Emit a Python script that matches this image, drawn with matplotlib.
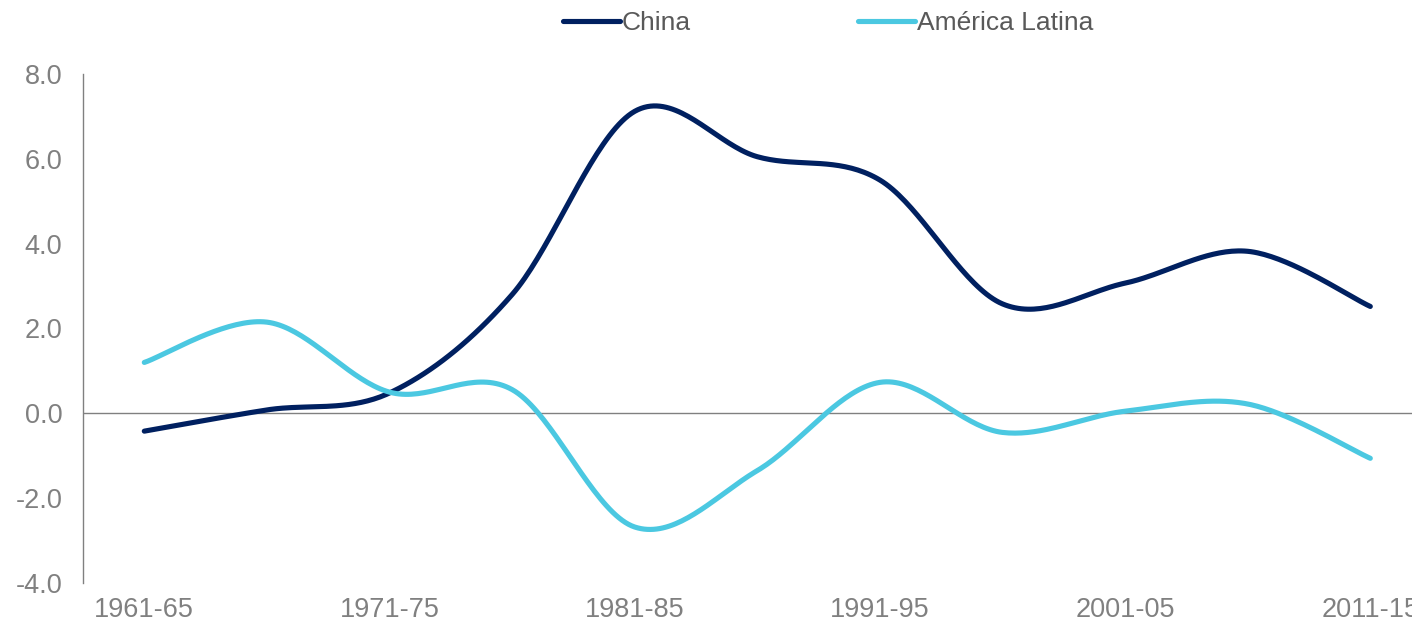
"""Growth gap chart: China vs. América Latina, five-year periods."""
import numpy as np
import matplotlib
matplotlib.use("Agg")
import matplotlib.pyplot as plt

periods = ["1961-65", "1966-70", "1971-75", "1976-80", "1981-85", "1986-90",
           "1991-95", "1996-00", "2001-05", "2006-10", "2011-15"]
china = [-0.42, 0.08, 0.48, 2.8, 7.12, 6.05, 5.5, 2.58, 3.07, 3.82, 2.52]
latam = [1.2, 2.15, 0.5, 0.56, -2.68, -1.35, 0.73, -0.45, 0.05, 0.22, -1.06]
yticks = [-4.0, -2.0, 0.0, 2.0, 4.0, 6.0, 8.0]

CHINA_COLOR = "#002060"
LATAM_COLOR = "#4BC8E1"
GRAY = "#808080"


def smooth(xs, ys, steps=40):
    """Excel-like smoothed line (Catmull-Rom through every point)."""
    pts = np.column_stack([xs, ys]).astype(float)
    padded = np.vstack([pts[0], pts, pts[-1]])
    out = []
    for i in range(len(pts) - 1):
        p0, p1, p2, p3 = padded[i], padded[i + 1], padded[i + 2], padded[i + 3]
        c1 = p1 + (p2 - p0) / 6.0
        c2 = p2 - (p3 - p1) / 6.0
        t = np.linspace(0, 1, steps)[:, None]
        seg = ((1 - t) ** 3 * p1 + 3 * (1 - t) ** 2 * t * c1
               + 3 * (1 - t) * t ** 2 * c2 + t ** 3 * p2)
        out.append(seg if i == 0 else seg[1:])
    seg = np.vstack(out)
    return seg[:, 0], seg[:, 1]


plt.rcParams["font.family"] = ["Liberation Sans", "DejaVu Sans"]

fig = plt.figure(figsize=(14.12, 6.23), dpi=100)
# plot area runs past the right edge, as in the source image
ax = fig.add_axes([83 / 1412, 40 / 623, 11 * 122.6 / 1412, 509 / 623])

x = np.arange(len(periods))
for values, color, label in [(china, CHINA_COLOR, "China"),
                             (latam, LATAM_COLOR, "América Latina")]:
    sx, sy = smooth(x, values)
    ax.plot(sx, sy, color=color, lw=3.7, solid_capstyle="round",
            label=label, zorder=3)

ax.axhline(0, color=GRAY, lw=1.0, zorder=1)

ax.set_xlim(-0.5, len(periods) - 0.5)
ax.set_ylim(-4, 8)
ax.set_yticks(yticks)
ax.set_yticklabels([f"{v:.1f}" for v in yticks])
ax.set_xticks(x[::2])
ax.set_xticklabels(periods[::2])
ax.tick_params(axis="both", length=0, labelsize=19.5, labelcolor=GRAY)
ax.tick_params(axis="y", pad=15)
ax.tick_params(axis="x", pad=10)

for side in ["top", "right", "bottom"]:
    ax.spines[side].set_visible(False)
ax.spines["left"].set_color(GRAY)
ax.spines["left"].set_linewidth(1.0)

fig.legend(loc="center", bbox_to_anchor=(0.5864, 0.963), ncol=2,
           frameon=False, fontsize=19, handlelength=2.16, handletextpad=0.06,
           columnspacing=6.37, labelcolor="#595959")

fig.savefig("out.png", dpi=100)
